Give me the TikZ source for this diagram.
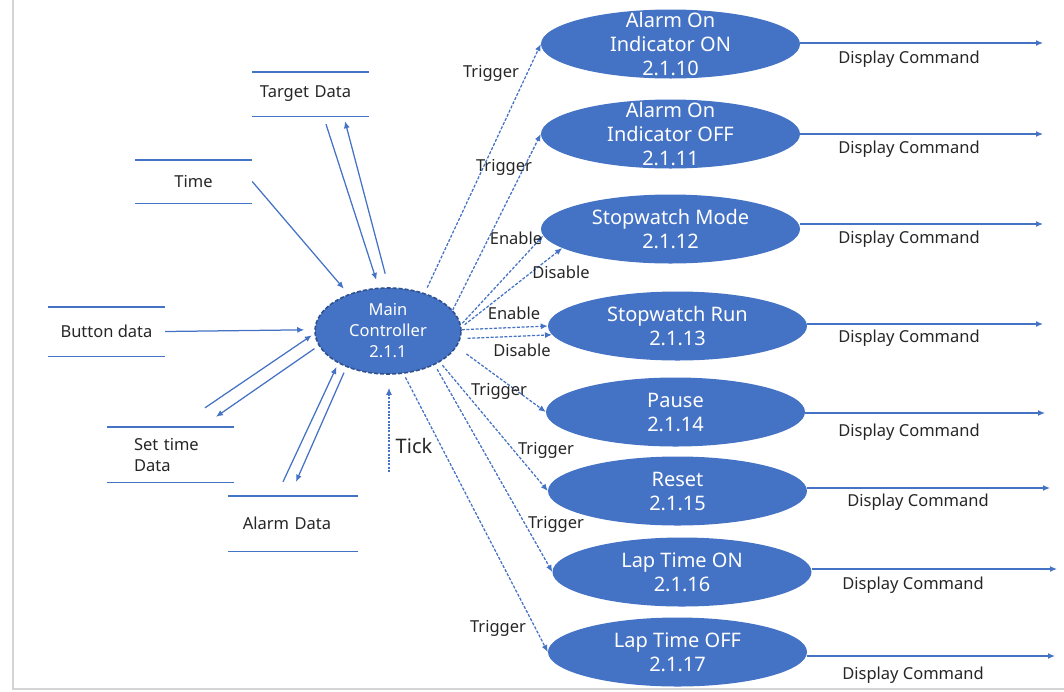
\documentclass[tikz,border=0pt]{standalone}
\usepackage{fontspec}
\setmainfont{Noto Sans}
\usetikzlibrary{shapes.geometric,arrows.meta,calc}
\definecolor{ablue}{HTML}{4472C4}
\definecolor{dblue}{HTML}{2F528F}
\definecolor{txt}{HTML}{262626}
\definecolor{framegray}{HTML}{D4D4D4}
\begin{document}
\begin{tikzpicture}[x=1pt,y=-1pt,
  proc/.style={ellipse, fill=ablue, draw=none, minimum width=259pt, minimum height=69pt, inner sep=0pt},
  ptext/.style={text=white, font=\fontsize{20}{24}\selectfont, align=center, inner sep=0pt},
  lbl/.style={text=txt, font=\fontsize{16.5}{21}\selectfont, inner sep=0pt},
  store/.style={lbl, align=left},
  flow/.style={draw=ablue, line width=1.25pt, -{Latex[length=7pt,width=6pt]}},
  ctrl/.style={flow, dash pattern=on 3pt off 1.6pt},
  storeline/.style={draw=ablue, line width=1.4pt},
]
\useasboundingbox (0,0) rectangle (1064,691);
\draw[framegray, line width=2pt] (13,0) -- (13,689) -- (1064,689);

% main controller
\node[ellipse, fill=ablue, draw=dblue, dash pattern=on 4pt off 2pt, line width=1.6pt,
      minimum width=146pt, minimum height=86pt, inner sep=0pt,
      label={[ptext, font=\fontsize{16.5}{21}\selectfont]center:Main\\Controller\\2.1.1}] (mc) at (388,331) {};

% processes
\node[proc, label={[ptext]center:Alarm On\\Indicator ON\\2.1.10}]  (e1) at (670.5,44) {};
\node[proc, label={[ptext]center:Alarm On\\Indicator OFF\\2.1.11}] (e2) at (670.5,134) {};
\node[proc, label={[ptext]center:Stopwatch Mode\\2.1.12}] (e3) at (670.5,229) {};
\node[proc, label={[ptext]center:Stopwatch Run\\2.1.13}]  (e4) at (677.5,326) {};
\node[proc, label={[ptext]center:Pause\\2.1.14}]          (e5) at (675.5,412) {};
\node[proc, label={[ptext]center:Reset\\2.1.15}]          (e6) at (677.5,491) {};
\node[proc, label={[ptext]center:Lap Time ON\\2.1.16}]    (e7) at (682,572) {};
\node[proc, label={[ptext]center:Lap Time OFF\\2.1.17}]   (e8) at (677.5,652) {};

% data stores
\node[store, minimum width=117pt, minimum height=44pt, text width=107pt, align=center] (target) at (310.5,94) {Target Data\hspace*{10pt}};
\node[store, minimum width=117pt, minimum height=43pt] (time) at (193.5,181.5) {Time};
\node[store, minimum width=117pt, minimum height=49pt] (button) at (106.5,331.5) {Button data};
\node[store, minimum width=127pt, minimum height=55pt, text width=73pt] (settime) at (170.5,454.5) {Set time\\Data};
\node[store, minimum width=130pt, minimum height=55pt, text width=118pt, align=center] (alarm) at (293,523.5) {Alarm Data\hspace*{12pt}};
\foreach \s in {target,time,button,settime,alarm}
  \draw[storeline] (\s.north west) -- (\s.north east) (\s.south west) -- (\s.south east);

% data flows
\draw[flow, shorten >=7pt] (time.east) -- (mc.137);
\draw[flow, shorten >=8pt] ([xshift=15.5pt,yshift=-8pt]target.south) -- (mc.102);
\draw[flow, shorten <=14pt] (mc.89) -- ([xshift=34.5pt,yshift=-5pt]target.south);
\draw[flow, shorten >=10pt] (button.east) -- (mc.179);
\draw[flow, shorten >=3pt] ([xshift=34.5pt,yshift=19pt]settime.north) -- (mc.182);
\draw[flow, shorten <=5pt] (mc.192) -- ([xshift=45.5pt,yshift=10pt]settime.north);
\draw[flow, shorten >=4pt] ([xshift=-10pt,yshift=14pt]alarm.north) -- (mc.213);
\draw[flow, shorten <=6pt] (mc.221) -- ([xshift=3pt,yshift=14pt]alarm.north);

% tick
\coordinate (tickc) at (389,472);
\draw[ctrl, dash pattern=on 2pt off 1.3pt, shorten >=13pt] (tickc) -- (tickc |- mc.south);
\node[lbl, font=\fontsize{20}{24}\selectfont] (ticklbl) at (414,446) {Tick};

% control flows
\draw[ctrl, shorten <=6pt] (mc.46) -- (e1.west);
\draw[ctrl] (mc.18) -- (e2.west);
\draw[ctrl, shorten <=2pt] (mc.5) -- (e3.183);
\draw[ctrl, shorten <=4pt] (mc.3) -- (e3.190);
\draw[ctrl] (mc.1) -- (e4.west);
\draw[ctrl, shorten <=7pt] (mc.-6) -- (e4.184);
\draw[ctrl, shorten <=12pt] (mc.-13.5) -- (e5.west);
\draw[ctrl, shorten <=4pt] (mc.-31) -- (e6.west);
\draw[ctrl, shorten <=5pt] (mc.-36) -- (e7.west);
\draw[ctrl, shorten <=4pt] (mc.-70) -- (e8.west);

\node[lbl] (t1) at (491,73) {Trigger};
\node[lbl] (t2) at (504,167) {Trigger};
\node[lbl] (en1) at (516,238) {Enable};
\node[lbl] (di1) at (561,272) {Disable};
\node[lbl] (en2) at (514,313) {Enable};
\node[lbl] (di2) at (522,350) {Disable};
\node[lbl] (t3) at (499,391) {Trigger};
\node[lbl] (t4) at (546,450) {Trigger};
\node[lbl] (t5) at (556,524) {Trigger};
\node[lbl] (t6) at (498,628) {Trigger};

% display commands
\coordinate (d1) at (1043,43);
\coordinate (d2) at (1043,134);
\coordinate (d3) at (1043,224);
\coordinate (d4) at (1043,324);
\coordinate (d5) at (1045,413);
\coordinate (d6) at (1050,488);
\coordinate (d7) at (1057,569);
\coordinate (d8) at (1055,656);
\foreach \i in {1,...,8}
  \draw[flow] (e\i.east |- d\i) -- (d\i);

\node[lbl] (dc1) at (909,59) {Display Command};
\node[lbl] (dc2) at (909,149) {Display Command};
\node[lbl] (dc3) at (909,239) {Display Command};
\node[lbl] (dc4) at (909,338) {Display Command};
\node[lbl] (dc5) at (909,432) {Display Command};
\node[lbl] (dc6) at (918,502) {Display Command};
\node[lbl] (dc7) at (913,585) {Display Command};
\node[lbl] (dc8) at (913,675) {Display Command};
\end{tikzpicture}
\end{document}
